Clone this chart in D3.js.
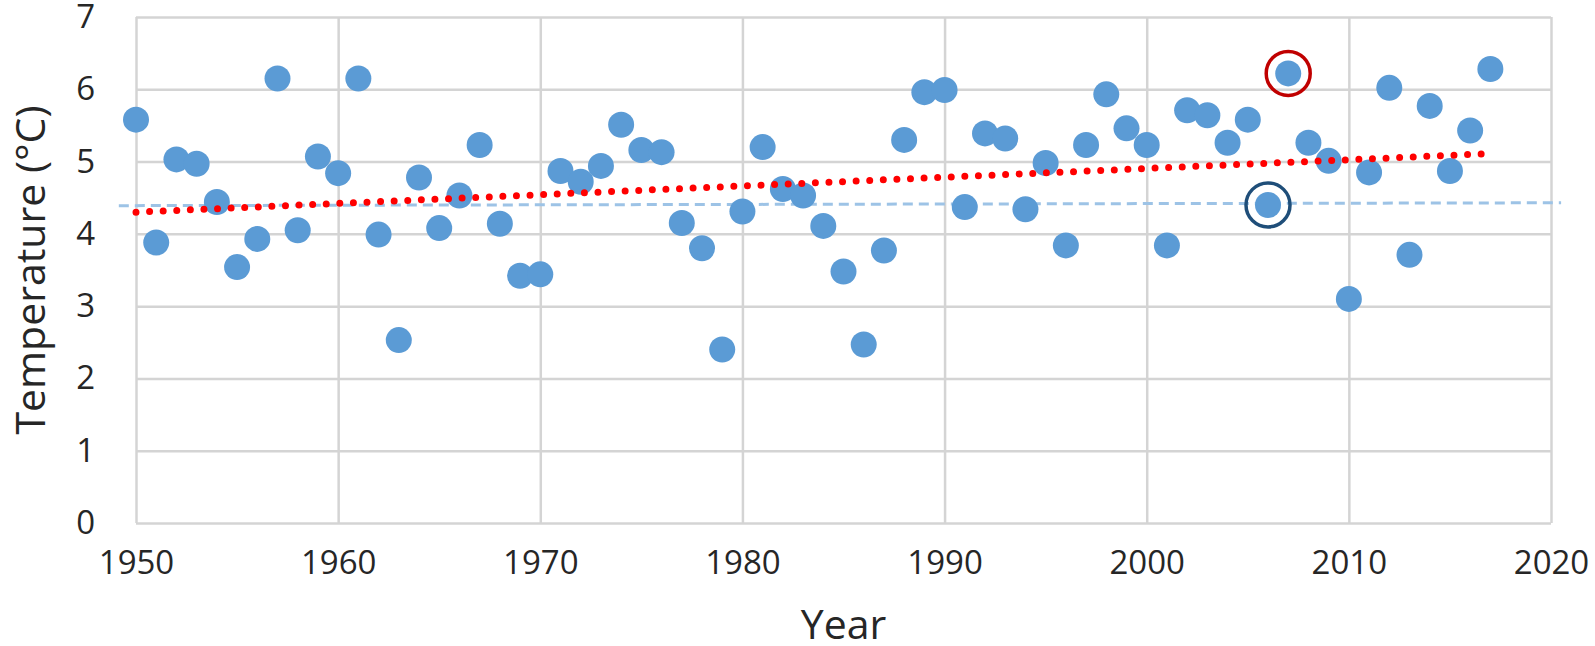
<!DOCTYPE html>
<html>
<head>
  <meta charset="UTF-8">
  <style>
    body { margin: 0; background: #fff; }
    svg { display: block; }
    .axis text { font-family: "Open Sans", sans-serif; font-size: 33px; fill: #262626; }
    .axis .domain { display: none; }
    .axis line { stroke: #d4d4d4; stroke-width: 2.5px; }
    .title { font-family: "Open Sans", sans-serif; font-size: 41px; fill: #262626; }
  </style>
</head>
<body>
<svg id="chart"></svg>
<script src="https://d3js.org/d3.v7.min.js"></script>
<script>

// data
const years = [1950,1951,1952,1953,1954,1955,1956,1957,1958,1959,
               1960,1961,1962,1963,1964,1965,1966,1967,1968,1969,
               1970,1971,1972,1973,1974,1975,1976,1977,1978,1979,
               1980,1981,1982,1983,1984,1985,1986,1987,1988,1989,
               1990,1991,1992,1993,1994,1995,1996,1997,1998,1999,
               2000,2001,2002,2003,2004,2005,2006,2007,2008,2009,
               2010,2011,2012,2013,2014,2015,2016,2017];
const temps = [5.58,3.88,5.03,4.97,4.44,3.54,3.93,6.15,4.05,5.07,
               4.84,6.15,3.99,2.53,4.78,4.08,4.53,5.23,4.14,3.42,
               3.44,4.87,4.72,4.94,5.51,5.16,5.13,4.15,3.80,2.40,
               4.31,5.20,4.62,4.53,4.11,3.48,2.47,3.77,5.30,5.96,
               5.99,4.37,5.39,5.32,4.34,4.98,3.84,5.23,5.93,5.46,
               5.23,3.84,5.71,5.64,5.26,5.58,4.40,6.22,5.26,5.01,
               3.10,4.85,6.02,3.71,5.77,4.87,5.43,6.28];

// linear trend (red dotted) and mean level (blue dashed)
const trendYears = [1950, 2017];
const trendTemps = [4.30, 5.11];
const meanYears = [1949.15, 2020.5];
const meanTemps = [4.39, 4.43];

// circled years
const highlightYears = [2007, 2006];
const highlightColors = ["#c00000", "#1f4e79"];

const xTicks = [1950, 1960, 1970, 1980, 1990, 2000, 2010, 2020];
const yTicks = [0, 1, 2, 3, 4, 5, 6, 7];

let width = 1595, height = 646;
let margin = {left: 136, right: 44, top: 17, bottom: 123};

let svg = d3.select("#chart")
    .attr("width", width)
    .attr("height", height);

let x = d3.scaleLinear().domain([1950, 2020]).range([margin.left, width - margin.right]);
let y = d3.scaleLinear().domain([0, 7]).range([height - margin.bottom, margin.top]);

let plotW = width - margin.left - margin.right;
let plotH = height - margin.top - margin.bottom;

// gridlines + tick labels
svg.append("g")
    .attr("class", "axis")
    .attr("transform", "translate(0," + y(0) + ")")
    .call(d3.axisBottom(x).tickValues(xTicks).tickFormat(d3.format("d"))
        .tickSizeInner(-plotH).tickSizeOuter(0).tickPadding(28));

svg.append("g")
    .attr("class", "axis")
    .attr("transform", "translate(" + x(1950) + ",0)")
    .call(d3.axisLeft(y).tickValues(yTicks).tickFormat(d3.format("d"))
        .tickSizeInner(-plotW).tickSizeOuter(0).tickPadding(41));

// mean line
let line = d3.line().x(d => x(d[0])).y(d => y(d[1]));

svg.append("path")
    .datum(meanYears.map((yr, i) => [yr, meanTemps[i]]))
    .attr("d", line)
    .attr("fill", "none")
    .attr("stroke", "#9dc3e6")
    .attr("stroke-width", 3)
    .attr("stroke-dasharray", "10 6");

// points
svg.append("g")
    .selectAll("circle")
    .data(years.map((yr, i) => ({year: yr, temp: temps[i]})))
    .enter()
    .append("circle")
    .attr("cx", d => x(d.year))
    .attr("cy", d => y(d.temp))
    .attr("r", 13)
    .attr("fill", "#5b9bd5");

// trend line
svg.append("path")
    .datum(trendYears.map((yr, i) => [yr, trendTemps[i]]))
    .attr("d", line)
    .attr("fill", "none")
    .attr("stroke", "#ff0000")
    .attr("stroke-width", 7)
    .attr("stroke-linecap", "round")
    .attr("stroke-dasharray", "0 13.6");

// circled points
svg.append("g")
    .selectAll("circle")
    .data(highlightYears)
    .enter()
    .append("circle")
    .attr("cx", d => x(d))
    .attr("cy", d => y(temps[years.indexOf(d)]))
    .attr("r", 22)
    .attr("fill", "none")
    .attr("stroke", (d, i) => highlightColors[i])
    .attr("stroke-width", 3.5);

// axis titles
svg.append("text")
    .attr("class", "title")
    .attr("x", x(1985))
    .attr("y", 639)
    .attr("text-anchor", "middle")
    .text("Year");

svg.append("text")
    .attr("class", "title")
    .attr("transform", "translate(45," + y(3.5) + ") rotate(-90)")
    .attr("text-anchor", "middle")
    .text("Temperature (°C)");

</script>
</body>
</html>
